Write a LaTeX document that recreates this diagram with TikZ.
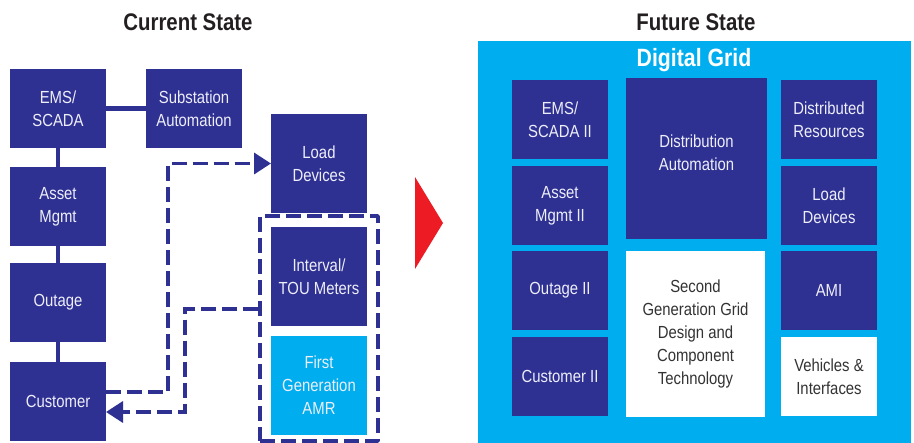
\documentclass[tikz,border=0pt]{standalone}
\usepackage{fontspec}
\setmainfont{Liberation Sans}[FakeStretch=0.85]
\usetikzlibrary{arrows.meta}
\definecolor{navy}{HTML}{2E3192}
\definecolor{sky}{HTML}{00AEEF}
\definecolor{alert}{HTML}{ED1C24}
\definecolor{ink}{HTML}{231F20}
\definecolor{paletext}{HTML}{EEEEF8}
\definecolor{greytext}{HTML}{333333}
\tikzset{
  box/.style={inner sep=0pt, outer sep=0pt, align=center,
    font=\fontsize{17.5}{23}\selectfont},
  dbox/.style={box, fill=navy, text=paletext},
  lbox/.style={box, fill=sky, text=paletext},
  wbox/.style={box, fill=white, text=greytext},
  link/.style={draw=navy, line width=4.5pt},
  flow/.style={draw=navy, line width=3.5pt, dash pattern=on 15pt off 6pt,
    -{Triangle[length=17pt, width=21pt]}},
  title/.style={font=\fontsize{24}{28}\selectfont\bfseries, text=ink},
}
\begin{document}
\begin{tikzpicture}[x=1pt, y=-1pt]
\useasboundingbox (0,0) rectangle (914,443);

% headings
\node[title] (cur) at (188,22) {Current State};
\node[title] (fut) at (696,22) {Future State};

% current state: core systems
\node[dbox, minimum width=96pt, minimum height=79pt] (ems) at (58,108.5) {EMS/\\SCADA};
\node[dbox, minimum width=96pt, minimum height=79pt] (sub) at (194,108.5) {Substation\\Automation};
\node[dbox, minimum width=96pt, minimum height=79pt] (asset) at (58,206.5) {Asset\\Mgmt};
\node[dbox, minimum width=96pt, minimum height=79pt] (outage) at (58,302.5) {Outage};
\node[dbox, minimum width=96pt, minimum height=79pt] (cust) at (58,401.5) {Customer};

\draw[link] (ems) -- (sub);
\draw[link] (ems) -- (asset);
\draw[link] (asset) -- (outage);
\draw[link] (outage) -- (cust);

% current state: edge devices
\node[dbox, minimum width=96pt, minimum height=99pt] (load) at (319,163.5) {Load\\Devices};
\node[draw=navy, line width=3.5pt, dash pattern=on 15pt off 6pt, line join=round,
  minimum width=118pt, minimum height=225pt, inner sep=0pt] (meters) at (319,328.5) {};
\node[dbox, minimum width=96pt, minimum height=99pt] (tou) at (319,276.5) {Interval/\\TOU Meters};
\node[lbox, minimum width=96pt, minimum height=99pt] (amr) at (319,385.5) {First\\Generation\\AMR};

% data flows
\coordinate (c1) at (168,392);
\coordinate (c2) at (185,309);
\draw[flow] ([yshift=9.5pt]cust.east) -- (c1) |- (load.west);
\draw[flow] (meters.west |- c2) -- (c2) |- ([yshift=-10.5pt]cust.east);

% transition marker
\fill[alert] (415,177) -- (443,223) -- (415,269) -- cycle;

% future state panel
\fill[sky] (478,41) rectangle (911,443);
\node[font=\fontsize{25}{28}\selectfont\bfseries, text=white] (grid) at (694,60) {Digital Grid};

\node[dbox, minimum width=96pt, minimum height=79pt] (ems2) at (560,119.5) {EMS/\\SCADA II};
\node[dbox, minimum width=96pt, minimum height=79pt] (asset2) at (560,205.5) {Asset\\Mgmt II};
\node[dbox, minimum width=96pt, minimum height=79pt] (outage2) at (560,290.5) {Outage II};
\node[dbox, minimum width=96pt, minimum height=79pt] (cust2) at (560,376.5) {Customer II};

\node[dbox, minimum width=141pt, minimum height=161pt] (da) at (696.5,158.5) {};
\node[box, text=paletext] (datext) at (696.5,153) {Distribution\\Automation};
\node[wbox, minimum width=139pt, minimum height=166pt] (sg) at (695.5,334) {Second\\Generation Grid\\Design and\\Component\\Technology};

\node[dbox, minimum width=96pt, minimum height=79pt] (dr) at (829,119.5) {Distributed\\Resources};
\node[dbox, minimum width=96pt, minimum height=79pt] (load2) at (829,205.5) {Load\\Devices};
\node[dbox, minimum width=96pt, minimum height=79pt] (ami) at (829,290.5) {AMI};
\node[wbox, minimum width=96pt, minimum height=79pt] (veh) at (829,376.5) {Vehicles \&\\Interfaces};
\end{tikzpicture}
\end{document}
